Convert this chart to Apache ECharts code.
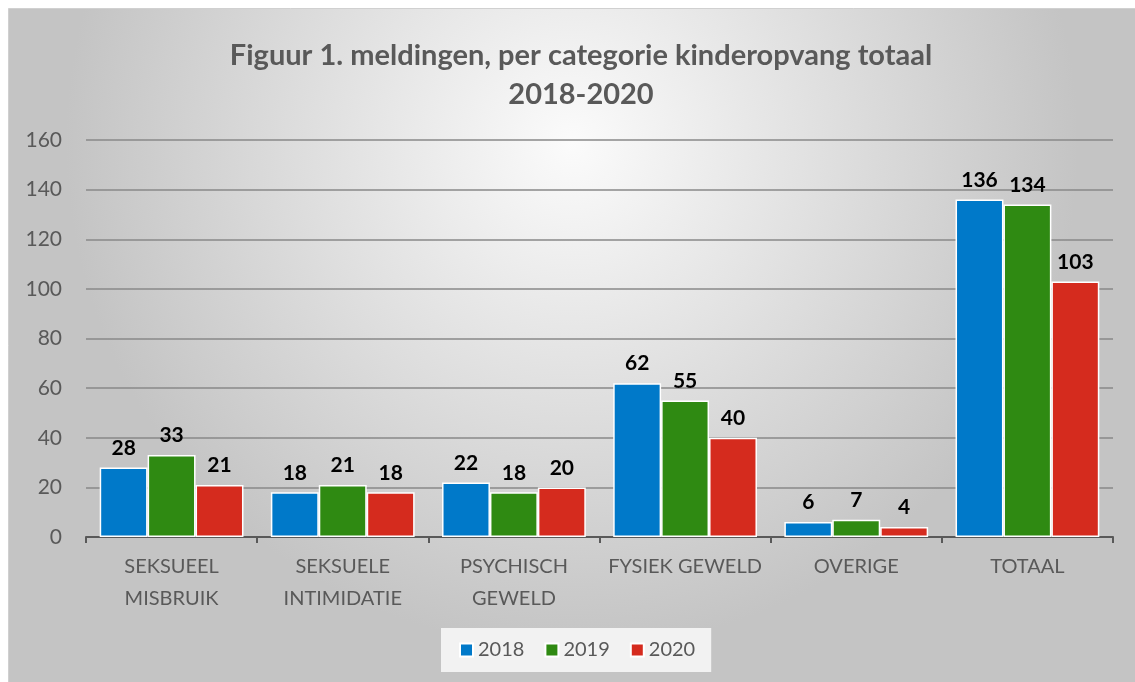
<!DOCTYPE html>
<html>
<head>
<meta charset="utf-8">
<script src="https://cdn.jsdelivr.net/npm/echarts@6/dist/echarts.min.js"></script>
<style>
    html, body {margin: 0; padding: 0; background: #fff;}
    #chart {width: 1135px; height: 682px;}
</style>
</head>
<body>
<div id="chart"></div>
<script>
const categories = ['SEKSUEEL\nMISBRUIK', 'SEKSUELE\nINTIMIDATIE', 'PSYCHISCH\nGEWELD', 'FYSIEK GEWELD', 'OVERIGE', 'TOTAAL']
const years = ['2018', '2019', '2020']
const values2018 = [28, 18, 22, 62, 6, 136]
const values2019 = [33, 21, 18, 55, 7, 134]
const values2020 = [21, 18, 20, 40, 4, 103]
const colors = ['#0079C9', '#2F8A12', '#D52B1E']

const font = 'Lato, "Liberation Sans", sans-serif'
const myChart = echarts.init(document.getElementById('chart'))

myChart.setOption({
    backgroundColor: '#ffffff',
    textStyle: {fontFamily: font},
    graphic: [
        {
            // chart area panel with soft radial shading
            type: 'rect',
            left: 8,
            top: 8,
            z: -10,
            shape: {width: 1127, height: 674},
            style: {
                fill: new echarts.graphic.RadialGradient(0.5, 0.2, 0.75, [
                    {offset: 0, color: '#fbfbfb'},
                    {offset: 1, color: '#c4c4c4'},
                ]),
                stroke: '#d0d0d0',
                lineWidth: 1,
            },
        },
    ],
    title: {
        text: 'Figuur 1. meldingen, per categorie kinderopvang totaal\n2018-2020',
        left: 576,
        top: 31,
        textAlign: 'center',
        textStyle: {
            color: '#595959',
            fontSize: 29,
            fontWeight: 'bold',
            lineHeight: 39,
            align: 'center',
            fontFamily: font,
        },
    },
    legend: {
        bottom: 10,
        left: 441,
        itemWidth: 13,
        itemHeight: 13,
        itemGap: 20,
        padding: [12, 16, 12, 18],
        backgroundColor: '#f2f2f2',
        icon: 'rect',
        textStyle: {color: '#595959', fontSize: 20, fontFamily: font},
        data: years,
    },
    grid: {
        left: 86,
        right: 22,
        top: 140,
        bottom: 145,
    },
    xAxis: {
        type: 'category',
        data: categories,
        axisLine: {lineStyle: {color: '#595959', width: 2}},
        axisTick: {show: true, length: 6, lineStyle: {color: '#595959', width: 2}},
        axisLabel: {
            color: '#595959',
            fontSize: 20,
            lineHeight: 32,
            margin: 14,
            interval: 0,
            fontFamily: font,
        },
    },
    yAxis: {
        type: 'value',
        min: 0,
        max: 160,
        interval: 20,
        axisLine: {show: false},
        axisTick: {show: false},
        axisLabel: {color: '#595959', fontSize: 21, margin: 24, fontFamily: font},
        splitLine: {lineStyle: {color: '#888888', width: 1.5}},
    },
    series: [values2018, values2019, values2020].map((data, index) => {
        return {
            name: years[index],
            type: 'bar',
            data: data,
            barGap: '0%',
            barCategoryGap: '16%',
            itemStyle: {
                color: colors[index],
                borderColor: '#ffffff',
                borderWidth: 1.5,
            },
            label: {
                show: true,
                position: 'top',
                distance: 9,
                color: '#000000',
                fontSize: 21,
                fontWeight: 'bold',
                fontFamily: font,
            },
        }
    }),
})
</script>
</body>
</html>
